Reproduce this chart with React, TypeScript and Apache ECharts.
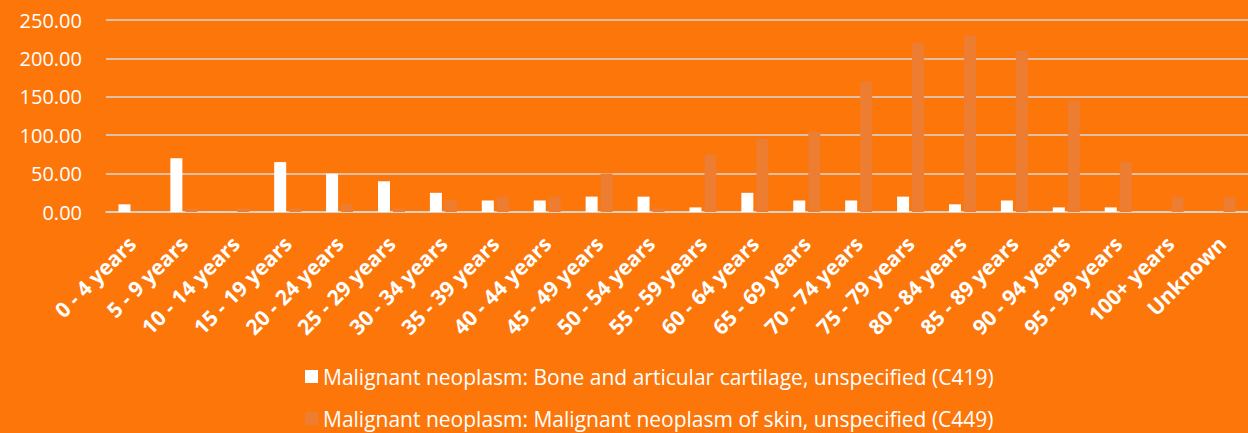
import React, { useEffect, useRef } from "react";
import * as echarts from "echarts";

const categories = [
  "0 - 4 years", "5 - 9 years", "10 - 14 years", "15 - 19 years", "20 - 24 years",
  "25 - 29 years", "30 - 34 years", "35 - 39 years", "40 - 44 years", "45 - 49 years",
  "50 - 54 years", "55 - 59 years", "60 - 64 years", "65 - 69 years", "70 - 74 years",
  "75 - 79 years", "80 - 84 years", "85 - 89 years", "90 - 94 years", "95 - 99 years",
  "100+ years", "Unknown",
];

const boneName = "Malignant neoplasm: Bone and articular cartilage, unspecified (C419)";
const skinName = "Malignant neoplasm: Malignant neoplasm of skin, unspecified (C449)";

const boneValues = [10, 70, 0, 65, 50, 40, 25, 15, 15, 20, 20, 6, 25, 15, 15, 20, 10, 15, 6, 6, 0, 0];
const skinValues = [0, 5, 5, 5, 10, 5, 15, 20, 20, 50, 5, 75, 95, 105, 170, 220, 230, 210, 145, 65, 20, 20];

const yTicks = { min: 0, max: 250, interval: 50 };

export default function App() {
  const ref = useRef<HTMLDivElement>(null);
  useEffect(() => {
    if (!ref.current) return;
    const chart = echarts.init(ref.current, null, { renderer: "svg" });
    const font = "'Open Sans', sans-serif";
    const legendCommon = {
      orient: "horizontal",
      left: 300,
      itemWidth: 13,
      itemHeight: 13,
      icon: "rect",
      textStyle: { color: "#ffffff", fontSize: 21, fontFamily: font },
    };
    chart.setOption({
      animation: false,
      backgroundColor: "#FC760A",
      textStyle: { fontFamily: font },
      grid: { left: 106, top: 20, right: -14, bottom: 221 },
      legend: [
        { ...legendCommon, top: 361, data: [boneName] },
        { ...legendCommon, top: 403, data: [skinName] },
      ],
      xAxis: {
        type: "category",
        data: categories,
        axisLine: { show: true, lineStyle: { color: "#D9D9D9", width: 1.5 } },
        axisTick: { show: false },
        axisLabel: {
          interval: 0,
          rotate: 45,
          margin: 28,
          color: "#ffffff",
          fontWeight: "bold",
          fontSize: 21,
          fontFamily: font,
        },
      },
      yAxis: {
        type: "value",
        min: yTicks.min,
        max: yTicks.max,
        interval: yTicks.interval,
        axisLine: { show: false },
        axisTick: { show: false },
        splitLine: { lineStyle: { color: "#D9D9D9", width: 1.5 } },
        axisLabel: {
          margin: 24,
          color: "#ffffff",
          fontSize: 20,
          fontFamily: font,
          formatter: (v: number) => v.toFixed(2),
        },
      },
      series: [
        {
          name: boneName,
          type: "bar",
          data: boneValues,
          barWidth: 12,
          barGap: "25%",
          itemStyle: { color: "#ffffff" },
        },
        {
          name: skinName,
          type: "bar",
          data: skinValues,
          barWidth: 12,
          barGap: "25%",
          itemStyle: { color: "#ED7D31" },
        },
      ],
    });
    return () => chart.dispose();
  }, []);
  return (
    <div
      ref={ref}
      style={{ position: "fixed", left: 0, top: 0, width: 1248, height: 433 }}
    />
  );
}
